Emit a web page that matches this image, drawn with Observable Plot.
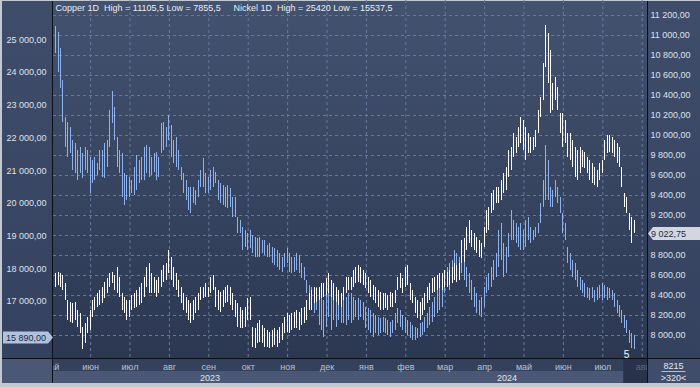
<!DOCTYPE html>
<html>
<head>
<meta charset="utf-8">
<script src="https://cdn.jsdelivr.net/npm/d3@7"></script>
<script src="https://cdn.jsdelivr.net/npm/@observablehq/plot@0.6"></script>
<style>
  html, body { margin: 0; padding: 0; background: #c3c9d3; }
  #chart { width: 700px; height: 387px; overflow: hidden; }
  #chart svg { display: block; }
</style>
</head>
<body>
<div id="chart"></div>
<script>
// ---------------- data ----------------
const monthLabels = ["май","июн","июл","авг","сен","окт","ноя","дек","янв","фев","мар","апр","май","июн","июл","авг"];
const yearLabels = ["2023", "2024"];
const yearStartMonth = [0, 8];

const copperHigh = [
 8617,8633,8617,8600,8517,8350,8333,8317,8333,8250,
 8217,8083,8117,8183,8250,8350,8383,8417,8450,8483,
 8533,8567,8617,8633,8600,8683,8583,8417,8383,8350,
 8350,8400,8417,8450,8483,8517,8583,8683,8717,8617,
 8583,8550,8583,8650,8700,8717,8850,8783,8683,8617,
 8550,8483,8417,8383,8350,8317,8350,8383,8417,8483,
 8483,8517,8483,8583,8600,8483,8450,8433,8450,8483,
 8500,8483,8417,8350,8317,8283,8250,8283,8367,8383,
 8083,8067,8117,8150,8100,8067,8050,8033,8050,8067,
 8050,8083,8117,8183,8217,8200,8217,8233,8250,8233,
 8267,8283,8350,8417,8450,8483,8467,8483,8517,8517,
 8567,8617,8550,8517,8483,8450,8417,8483,8583,8583,
 8583,8650,8683,8700,8683,8650,8617,8583,8550,8500,
 8483,8450,8433,8417,8417,8400,8433,8417,8450,8583,
 8617,8567,8683,8700,8517,8450,8383,8350,8333,8367,
 8417,8483,8517,8567,8583,8600,8617,8617,8650,8633,
 8650,8683,8717,8700,8717,8950,8967,9083,9150,9050,
 9017,8983,8950,8917,9083,9250,9283,9417,9450,9483,
 9483,9550,9617,9683,9850,9883,10017,9983,10083,10183,
 10150,10083,10017,9983,9983,10050,10250,10383,10717,11105,
 11017,10850,10517,10583,10483,10217,10217,10150,10017,10017,
 9950,9883,9850,9883,9850,9833,9783,9750,9717,9683,
 9650,9717,9750,9950,10000,10000,9983,9950,9917,9883,
 9683,9417,9383,9217,9183,9150
];
const copperLow = [
 8483,8500,8483,8450,8350,8150,8133,8117,8150,8083,
 8017,7856,7917,8017,8050,8183,8250,8283,8300,8317,
 8367,8417,8483,8517,8450,8417,8383,8250,8217,8150,
 8183,8250,8267,8283,8300,8317,8383,8483,8417,8417,
 8417,8383,8417,8483,8533,8550,8617,8550,8483,8450,
 8383,8317,8250,8217,8150,8117,8150,8217,8250,8350,
 8367,8383,8383,8417,8450,8283,8250,8233,8283,8317,
 8333,8300,8250,8183,8083,8067,8067,8083,8150,8150,
 7883,7867,7917,7933,7917,7883,7883,7867,7883,7900,
 7883,7917,7950,8017,8033,8017,8050,8067,8067,8050,
 8100,8117,8150,8250,8250,8317,8333,8350,8367,8383,
 8400,8417,8383,8350,8333,8300,8283,8350,8417,8450,
 8450,8483,8517,8533,8517,8500,8467,8417,8383,8350,
 8317,8283,8250,8250,8267,8250,8283,8283,8317,8450,
 8467,8417,8483,8500,8350,8317,8217,8167,8150,8200,
 8250,8317,8350,8417,8433,8450,8467,8450,8483,8483,
 8500,8517,8550,8533,8550,8717,8733,8850,8917,8883,
 8850,8817,8783,8767,8883,9017,9050,9217,9250,9317,
 9317,9350,9417,9450,9583,9650,9783,9817,9883,9917,
 9850,9750,9817,9817,9850,9883,10017,10183,10350,10683,
 10517,10217,10250,10350,10250,10017,9883,9917,9783,9750,
 9683,9583,9550,9617,9683,9667,9617,9550,9517,9500,
 9483,9550,9617,9750,9817,9833,9817,9783,9717,9683,
 9483,9283,9217,9050,8917,9017
];
const nickelHigh = [
 25420,25233,24723,23755,22635,22482,22329,21921,21819,21615,
 21717,21514,21717,21615,21412,21310,21412,21208,21615,21615,
 21819,21921,22838,23429,22940,22023,21615,21514,20902,20851,
 20800,20698,21106,21463,21310,21412,21717,21768,21717,21412,
 21514,21565,21412,22431,22482,22329,22685,22380,21921,22023,
 21615,21106,20902,20698,20495,20495,20495,20393,20698,21004,
 21361,20902,20800,21004,21106,20953,20698,20596,20546,20495,
 20546,20444,20189,20189,19577,19476,19272,19170,19068,19170,
 19017,18966,18915,18966,18864,18864,18711,18762,18660,18609,
 18558,18457,18355,18457,18609,18457,18355,18355,18457,18406,
 18151,18049,17641,17489,17438,17336,17438,17234,17132,17030,
 17234,17438,17234,17234,17132,17336,17132,17030,17132,17234,
 17234,17132,17030,17081,17030,16979,16826,16775,16724,16622,
 16571,16521,16470,16521,16470,16419,16368,16419,16622,16775,
 16724,16571,16521,16419,16368,16266,16215,16164,16317,16368,
 16521,16622,16826,16979,17132,17336,17438,17590,17947,18049,
 18151,18253,18558,18457,18355,18457,18253,18049,17845,17641,
 17438,17234,17030,17132,17438,17743,17845,18049,18253,18457,
 19170,19374,18762,18660,19068,19781,19476,19374,19272,19374,
 19170,19476,19577,19272,19170,19272,19374,19985,20698,21768,
 21310,20495,20393,20698,20495,20189,19679,19374,18660,18457,
 18253,18151,17947,17743,17641,17539,17438,17387,17438,17336,
 17438,17489,17539,17489,17438,17387,17336,17234,17030,16877,
 16724,16571,16419,16113,16011,15960
];
const nickelLow = [
 24571,24010,23501,22482,21717,21408,21514,21004,20902,20698,
 20902,20749,21004,20902,20291,20596,20698,20851,21004,20800,
 20749,21106,21717,22431,21921,21106,20902,20189,19934,20087,
 20189,20291,20240,20393,20596,20698,20698,20902,20800,20851,
 20953,20698,20800,21514,21615,21717,21921,21412,21208,21106,
 21004,20698,20291,20087,19781,19679,19985,19934,20189,20495,
 20495,20291,20291,20393,20495,20596,20087,19985,19934,19883,
 19832,19883,19577,19577,19068,19068,18558,18660,18558,18609,
 18457,18355,18355,18355,18457,18406,18355,18355,18151,18100,
 18049,17947,17896,18049,18151,17896,17845,17896,17947,17845,
 17692,17641,17234,17030,16826,16622,16724,16266,16113,15909,
 16215,16521,16113,16419,16215,16419,16317,16317,16266,16419,
 16317,16419,16521,16419,16521,16419,16164,16113,16011,15909,
 16011,15960,16011,16062,16011,15960,15909,16011,16113,16317,
 16215,16113,16011,15960,15858,15807,15807,15858,15909,15960,
 16062,16164,16266,16368,16521,16622,16724,16826,17234,17438,
 17336,17539,17743,17641,17845,17845,17641,17438,17234,17030,
 16826,16622,16571,16521,16826,17234,17336,17438,17641,17743,
 18049,18253,17743,17845,18355,18864,18864,18762,18660,18558,
 18558,18660,18864,18762,18864,18966,19068,19374,19883,20087,
 20087,19883,19883,20189,19985,19679,19068,18864,18151,17947,
 17743,17641,17438,17336,17234,17132,17081,17030,17081,16979,
 17030,17081,17030,17081,17030,17081,17030,16826,16622,16521,
 16317,16164,16011,15705,15552,15538
];

const copperTicks = [8000,8200,8400,8600,8800,9000,9200,9400,9600,9800,10000,10200,10400,10600,10800,11000,11200];
const copperLabelTicks = [8000,8200,8400,8600,8800,9200,9400,9600,9800,10000,10200,10400,10600,10800,11000,11200];
const nickelTicks = [17000,18000,19000,20000,21000,22000,23000,24000,25000];
const copperLast = 9022.75;
const nickelLast = 15890;
const headerCopper = "Copper 1D\u00a0 High = 11105,5 Low = 7855,5";
const headerNickel = "Nickel 1D\u00a0 High = 25420 Low = 15537,5";
const markerLabel = "5";
const barsShown = "8215";
const barsWindow = ">320<";

// time axis: months since May 2023, one bar every 1/16 month
const firstBarMonth = 0.11, barsPerMonth = 16;
const xDomain = [0.058, 15.134];
const highlightFrom = 14.53;

// nickel values mapped onto the copper (right-hand) scale
const nickelToCopper = d3.scaleLinear().domain([17000, 25000]).range([8340, 10957]);

const copperBars = copperHigh.map((h, i) => ({t: firstBarMonth + i / barsPerMonth, high: h, low: copperLow[i]}));
const nickelBars = nickelHigh.map((h, i) => ({t: firstBarMonth + i / barsPerMonth, high: h, low: nickelLow[i]}));

const loc = d3.formatLocale({decimal: ",", thousands: "\u00a0", grouping: [3], currency: ["", ""]});
const fmt = loc.format(",.2f");

const FONT = "'Liberation Sans', Arial, sans-serif";
const gridColor = "#68779a";

function backdrop(index, scales, values, dims) {
  const W = dims.width, H = dims.height, L = dims.marginLeft;
  const right = W - dims.marginRight, bottom = H - dims.marginBottom;
  const g = d3.create("svg:g");
  const defs = g.append("defs");
  const grad = (id, a, b) => {
    const lg = defs.append("linearGradient").attr("id", id).attr("x1", 0).attr("y1", 0).attr("x2", 0).attr("y2", 1);
    lg.append("stop").attr("offset", 0).attr("stop-color", a);
    lg.append("stop").attr("offset", 1).attr("stop-color", b);
  };
  grad("plotBg", "#43526f", "#2c3852");
  grad("panelBg", "#3f4d6a", "#35425f");
  defs.append("clipPath").attr("id", "xLabelClip").append("rect")
    .attr("x", L).attr("y", bottom).attr("width", right - L).attr("height", dims.marginBottom);
  g.append("rect").attr("width", W).attr("height", H).attr("fill", "#c3c9d3");
  g.append("rect").attr("x", 2).attr("y", 1).attr("width", L - 2).attr("height", bottom - 1).attr("fill", "url(#panelBg)");
  g.append("rect").attr("x", right).attr("y", 1).attr("width", W - right).attr("height", bottom - 1).attr("fill", "url(#panelBg)");
  g.append("rect").attr("x", L).attr("y", 1).attr("width", right - L).attr("height", bottom - 1).attr("fill", "url(#plotBg)");
  g.append("rect").attr("x", 2).attr("y", bottom).attr("width", W - 2).attr("height", H - 4 - bottom).attr("fill", "#4a5876");
  g.append("rect").attr("x", right).attr("y", bottom).attr("width", W - right).attr("height", H - 4 - bottom).attr("fill", "#3f4d6a");
  g.append("rect").attr("x", L).attr("y", bottom).attr("width", right - L).attr("height", 13).attr("fill", "#34415d");
  const hx = scales.x(highlightFrom);
  g.append("rect").attr("x", hx).attr("y", bottom).attr("width", right - hx).attr("height", H - 4 - bottom).attr("fill", "#28324b");
  return g.node();
}

function overlay(index, scales, values, dims) {
  const W = dims.width, H = dims.height, L = dims.marginLeft;
  const right = W - dims.marginRight, bottom = H - dims.marginBottom;
  const g = d3.create("svg:g").attr("font-family", FONT).attr("font-size", 9);
  g.append("line").attr("x1", L - 0.5).attr("x2", L - 0.5).attr("y1", 1).attr("y2", H - 4).attr("stroke", "#0b0f18");
  g.append("line").attr("x1", right + 0.5).attr("x2", right + 0.5).attr("y1", 1).attr("y2", H - 4).attr("stroke", "#0b0f18");
  g.append("line").attr("x1", 2).attr("x2", W).attr("y1", bottom + 0.5).attr("y2", bottom + 0.5).attr("stroke", "#0b0f18");
  // bar counters
  const cx = (right + W) / 2;
  g.append("text").attr("x", cx).attr("y", bottom + 8).attr("dy", "0.35em").attr("text-anchor", "middle").attr("fill", "#e3e7ee").text(barsShown);
  g.append("line").attr("x1", cx - 12).attr("x2", cx + 12).attr("y1", bottom + 13.5).attr("y2", bottom + 13.5).attr("stroke", "#b8c0ce");
  g.append("text").attr("x", cx).attr("y", bottom + 20).attr("dy", "0.35em").attr("text-anchor", "middle").attr("fill", "#e3e7ee").text(barsWindow);
  // last-price tags
  const cy = Math.round(scales.y(copperLast)) + 0.5;
  g.append("path").attr("d", `M${right + 1},${cy} L${right + 6},${cy - 6.5} H${W} V${cy + 6.5} H${right + 6} Z`).attr("fill", "#d2d7df");
  g.append("text").attr("x", right + 4).attr("y", cy).attr("dy", "0.35em").attr("text-anchor", "start").attr("fill", "#1e2840").text(fmt(copperLast));
  const ny = Math.round(scales.y(nickelToCopper(nickelLast))) + 0.5;
  g.append("path").attr("d", `M${L},${ny} L${L - 5},${ny - 6} H3 V${ny + 6} H${L - 5} Z`).attr("fill", "#aec3df");
  g.append("text").attr("x", L - 7).attr("y", ny).attr("dy", "0.35em").attr("text-anchor", "end").attr("fill", "#1e2840").text(fmt(nickelLast));
  return g.node();
}

const yearPos = yearLabels.map((y, i) => {
  const a = Math.max(yearStartMonth[i], xDomain[0]);
  const b = i + 1 < yearStartMonth.length ? yearStartMonth[i + 1] : xDomain[1];
  return {label: y, t: (a + b) / 2};
});

const chart = Plot.plot({
  width: 700,
  height: 387,
  marginLeft: 53,
  marginRight: 53,
  marginTop: 0,
  marginBottom: 29,
  style: {fontFamily: FONT, fontSize: "9px", background: "transparent"},
  x: {type: "linear", domain: xDomain},
  y: {domain: [7770, 11350]},
  marks: [
    backdrop,
    Plot.gridY(copperTicks, {stroke: gridColor, strokeOpacity: 1, strokeDasharray: "3,3"}),
    Plot.gridX(d3.range(1, 16), {stroke: gridColor, strokeOpacity: 1, strokeDasharray: "3,3"}),
    Plot.ruleX(nickelBars, {x: "t", y1: d => nickelToCopper(d.low), y2: d => nickelToCopper(d.high), stroke: "#8eb2ee", strokeWidth: 1, shapeRendering: "crispEdges"}),
    Plot.ruleX(copperBars, {x: "t", y1: "low", y2: "high", stroke: "#ffffff", strokeWidth: 1, shapeRendering: "crispEdges"}),
    Plot.axisY(copperLabelTicks, {anchor: "right", tickSize: 0, tickPadding: 3, tickFormat: fmt, fill: "#dde2ea", fontSize: 9, label: null}),
    Plot.axisY(nickelTicks.map(nickelToCopper), {anchor: "left", tickSize: 0, tickPadding: 7, tickFormat: d => fmt(Math.round(nickelToCopper.invert(d))), fill: "#dde2ea", fontSize: 9, label: null}),
    Plot.axisX(d3.range(0, 15), {anchor: "bottom", tickSize: 0, tickPadding: 5, tickFormat: i => monthLabels[i], fill: "#b9c1d0", fontSize: 9, label: null}),
    Plot.axisX([15], {anchor: "bottom", tickSize: 0, tickPadding: 5, tickFormat: i => monthLabels[i], fill: "#5e6985", fontSize: 9, label: null}),
    Plot.text(yearPos, {x: "t", text: "label", frameAnchor: "bottom", dy: 20, lineAnchor: "middle", fill: "#e0e4ec", fontSize: 9}),
    Plot.text([headerCopper], {frameAnchor: "top-left", dx: 2, dy: 8, lineAnchor: "middle", textAnchor: "start", fill: "#e9edf3", fontSize: 9}),
    Plot.text([headerNickel], {frameAnchor: "top-left", dx: 180, dy: 8, lineAnchor: "middle", textAnchor: "start", fill: "#e9edf3", fontSize: 9}),
    Plot.text([markerLabel], {x: [14.6], frameAnchor: "bottom", dy: -4, lineAnchor: "middle", fill: "#ffffff", fontSize: 10}),
    overlay
  ]
});

d3.select(chart).selectAll('g[aria-label="x-axis tick label"]').attr("clip-path", "url(#xLabelClip)");
document.getElementById("chart").appendChild(chart);
</script>
</body>
</html>
